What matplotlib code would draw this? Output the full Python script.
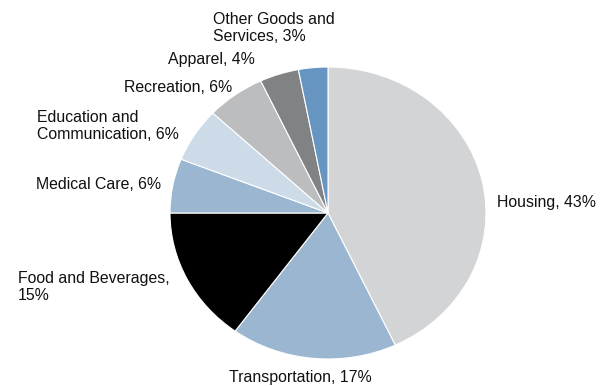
import matplotlib.pyplot as plt

categories = ["Housing", "Transportation", "Food and Beverages", "Medical Care",
              "Education and Communication", "Recreation", "Apparel",
              "Other Goods and Services"]
shares = [43, 17, 15, 6, 6, 6, 4, 3]
label_texts = ["Housing, 43%", "Transportation, 17%", "Food and Beverages,\n15%",
               "Medical Care, 6%", "Education and\nCommunication, 6%",
               "Recreation, 6%", "Apparel, 4%", "Other Goods and\nServices, 3%"]

colors = ["#d3d4d6", "#9ab6d0", "#000000", "#9ab6d0", "#cddbe8",
          "#bcbdbf", "#808284", "#6795c1"]

# label anchor points (data coords of the unit pie) and alignment
label_pos = [(1.07, 0.075, "left"), (-0.177, -1.13, "center"), (-1.962, -0.507, "left"),
             (-1.848, 0.192, "left"), (-1.842, 0.596, "left"), (-1.291, 0.863, "left"),
             (-1.013, 1.048, "left"), (-0.728, 1.267, "left")]

plt.rcParams['font.family'] = ['Liberation Sans', 'DejaVu Sans']

fig = plt.figure(figsize=(6.12, 3.86), dpi=100)
ax = fig.add_axes([170/612, 27/386, 316/612, 292/386])

ax.pie(shares, colors=colors, startangle=90, counterclock=False,
       wedgeprops=dict(edgecolor="white", linewidth=0.8))
ax.set_aspect("auto")
ax.set_xlim(-1, 1)
ax.set_ylim(-1, 1)
ax.axis("off")

for txt, (x, y, ha) in zip(label_texts, label_pos):
    ax.text(x, y, txt, ha=ha, va="center", fontsize=11.4, color="#111111",
            linespacing=1.15, clip_on=False)

fig.savefig("out.png", dpi=100)
